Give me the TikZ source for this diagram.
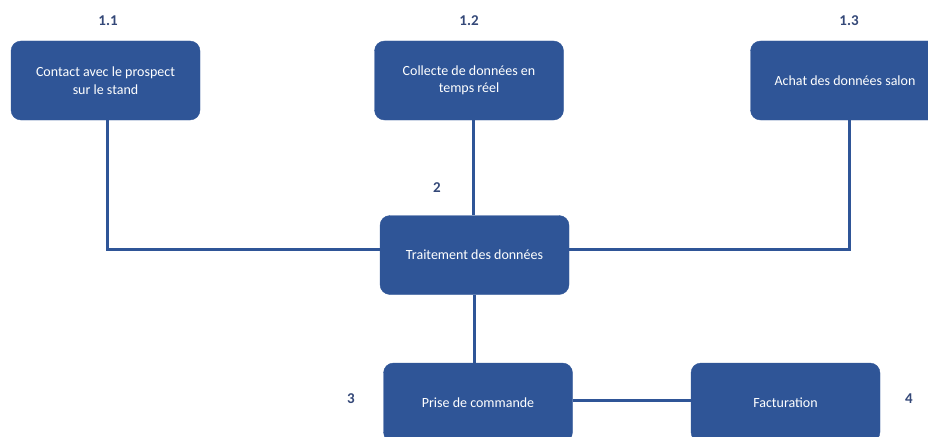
\documentclass[tikz,border=0pt]{standalone}
\usepackage{fontspec}
\setmainfont{Carlito}
\definecolor{boxblue}{RGB}{47,85,151}
\definecolor{labelblue}{RGB}{52,72,120}
\begin{document}
\begin{tikzpicture}[x=1pt,y=-1pt,
  box/.style={draw=boxblue, fill=boxblue, rounded corners=10pt, minimum width=189pt, minimum height=79pt,
    text=white, align=center, font=\fontsize{14}{17.5}\selectfont, inner sep=0pt},
  num/.style={text=labelblue, font=\fontsize{15}{18}\selectfont\bfseries},
  link/.style={draw=boxblue, line width=3pt}]
\useasboundingbox (0,0) rectangle (928,436);
\clip (0,0) rectangle (928,436);
% boxes
\node[box] (a11) at (105.5,80.5) {Contact avec le prospect\\sur le stand};
\node[box] (a12) at (469,80.5) {Collecte de données en\\temps réel};
\node[box] (a13) at (845,80.5) {Achat des données salon};
\node[box] (b2) at (474.5,255) {Traitement des données};
\node[box] (c3) at (478,402.5) {Prise de commande};
\node[box] (c4) at (785.5,402.5) {Facturation};
% labels
\node[num] (l11) at (108,21) {1.1};
\node[num] (l12) at (469,21) {1.2};
\node[num] (l13) at (849,21) {1.3};
\node[num] (l2) at (437,188) {2};
\node[num] (l3) at (351,399) {3};
\node[num] (l4) at (909,399) {4};
% connectors
\draw[link] ([xshift=1.5pt]a11.south) |- ([yshift=6pt]b2.west);
\draw[link] ([xshift=4pt]a13.south) |- ([yshift=6pt]b2.east);
\draw[link] ([xshift=-1.5pt]b2.north) -- ([xshift=-1.5pt]b2.north |- a12.south);
\draw[link] (b2.south) -- (b2.south |- c3.north);
\coordinate (m34) at (0,400);
\draw[link] (c3.east |- m34) -- (c4.west |- m34);
\end{tikzpicture}
\end{document}
